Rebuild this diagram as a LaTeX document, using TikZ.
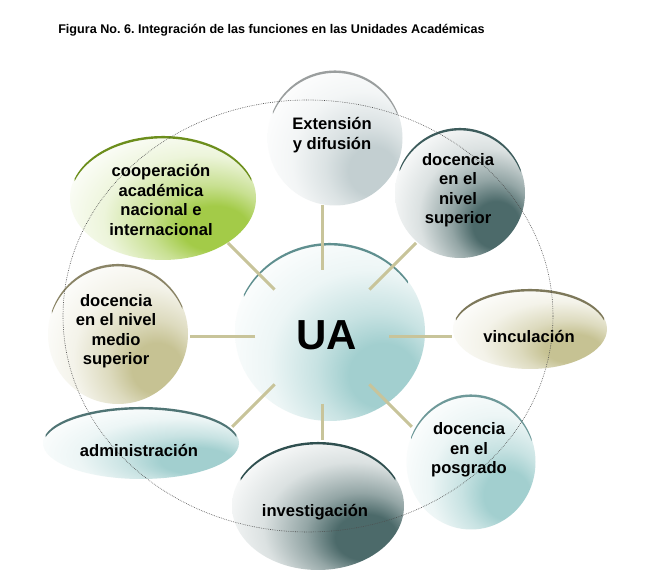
\documentclass[tikz,border=0pt]{standalone}
\usepackage{fontspec}
\setmainfont{Liberation Sans}
\usetikzlibrary{shapes.geometric,calc}
\frenchspacing
\colorlet{shcol}{white}
\pgfdeclareradialshading[shcol]{glow}{\pgfpoint{16bp}{-14bp}}{color(0bp)=(shcol); color(9bp)=(shcol); color(16bp)=(shcol!60!white); color(26bp)=(shcol!20!white); color(38bp)=(white); color(70bp)=(white)}
\definecolor{cUA}{HTML}{A2CFCF}
\definecolor{cExt}{HTML}{C3CFD1}
\definecolor{cDark}{HTML}{4C6A6A}
\definecolor{cGreen}{HTML}{A3CB48}
\definecolor{cTan}{HTML}{C6C293}
\definecolor{cTeal}{HTML}{A2CFCF}
\definecolor{rUA}{HTML}{5F8F8F}
\definecolor{rExt}{HTML}{9A9E9E}
\definecolor{rDark}{HTML}{3D5C5C}
\definecolor{rInv}{HTML}{2F4F4F}
\definecolor{rGreen}{HTML}{6C8E1C}
\definecolor{rTan}{HTML}{8A8466}
\definecolor{rVinc}{HTML}{7D785A}
\definecolor{rTeal}{HTML}{6E9999}
\definecolor{rAdm}{HTML}{4F7474}
\definecolor{spokecol}{HTML}{C8C49A}
\newcommand\rimarc[7]{\fill[#7] (#1,#2) ++(#5:#3 and #4) arc[start angle=#5,end angle=#6,x radius=#3,y radius=#4] -- ++(0,-2.4) arc[start angle=#6,end angle=#5,x radius=#3,y radius=#4] -- cycle;}
\tikzset{
  bub/.style={ellipse, inner sep=0pt, /utils/exec={\colorlet{shcol}{#1}}, shade, shading=glow},
  spoke/.style={draw=spokecol, line width=3pt},
  orbitline/.style={draw=black!70, line width=0.6pt, dash pattern=on 0.7pt off 1.1pt},
  lbl/.style={align=center, inner sep=0pt, font=\fontsize{16.6}{19.5}\selectfont\bfseries}
}
\begin{document}
\begin{tikzpicture}[x=1pt,y=1pt]
\useasboundingbox (0,0) rectangle (651,588);
\fill[white] (0,0) rectangle (651,588);
% title
\node[inner sep=0pt, font=\fontsize{12.6}{15}\selectfont\bfseries] (title) at (271.5,558) {Figura No. 6. Integración de las funciones en las Unidades Académicas};
% shapes
\node[bub=cUA, minimum width=190pt, minimum height=178pt] (uashape) at (330,256) {};
\rimarc{330}{256}{95}{89}{155}{35}{rUA}
\node[bub=cExt, minimum width=135pt, minimum height=135pt] (ext) at (335,450) {};
\rimarc{335}{450}{67.5}{67.5}{157}{22}{rExt}
\node[bub=cDark, minimum width=130pt, minimum height=130pt] (docsup) at (460,395) {};
\rimarc{460}{395}{65}{65}{158}{21}{rDark}
\node[bub=cGreen, minimum width=186pt, minimum height=124pt] (coop) at (163,390) {};
\rimarc{163}{390}{93}{62}{162}{18}{rGreen}
\node[bub=cTan, minimum width=140pt, minimum height=140pt] (medio) at (118,254) {};
\rimarc{118}{254}{70}{70}{161}{23}{rTan}
\node[bub=cTan, minimum width=154pt, minimum height=80pt] (vinc) at (530,259) {};
\rimarc{530}{259}{77}{40}{164}{16}{rVinc}
\node[bub=cTeal, minimum width=129pt, minimum height=135pt] (posg) at (471,126) {};
\rimarc{471}{126}{64.5}{67.5}{158}{20}{rTeal}
\node[bub=cTeal, minimum width=196pt, minimum height=72pt] (admin) at (141,145) {};
\rimarc{141}{145}{98}{36}{167}{13}{rAdm}
\node[bub=cDark, minimum width=172pt, minimum height=128pt] (inv) at (318,82) {};
\rimarc{318}{82}{86}{64}{154}{26}{rInv}
% spokes
\coordinate (ua) at (322,251);
\foreach \a/\r in {90/132, 45/133, 0/130, -45/127, -90/103, -135/127, 180/132, 135/133}
  \draw[spoke] ($(ua)+(\a:67)$) -- ($(ua)+(\a:\r)$);
% dotted orbit
\draw[orbitline] (308,272) ellipse[x radius=245, y radius=216];
% labels
\node[inner sep=0pt, font=\fontsize{42}{42}\selectfont\bfseries] (tUA) at (327,253) {UA};
\node[lbl] (tExt) at (332,453) {Extensión\\y difusión};
\node[lbl] (tSup) at (458,398) {docencia\\en el\\nivel\\superior};
\node[lbl] (tCoop) at (161,388) {cooperación\\académica\\nacional e\\internacional};
\node[lbl] (tMed) at (116,257) {docencia\\en el nivel\\medio\\superior};
\node[lbl] (tVinc) at (529,251) {vinculación};
\node[lbl] (tPos) at (469,138) {docencia\\en el\\posgrado};
\node[lbl] (tAdm) at (139,137) {administración};
\node[lbl] (tInv) at (315,76) {investigación};
\end{tikzpicture}
\end{document}
